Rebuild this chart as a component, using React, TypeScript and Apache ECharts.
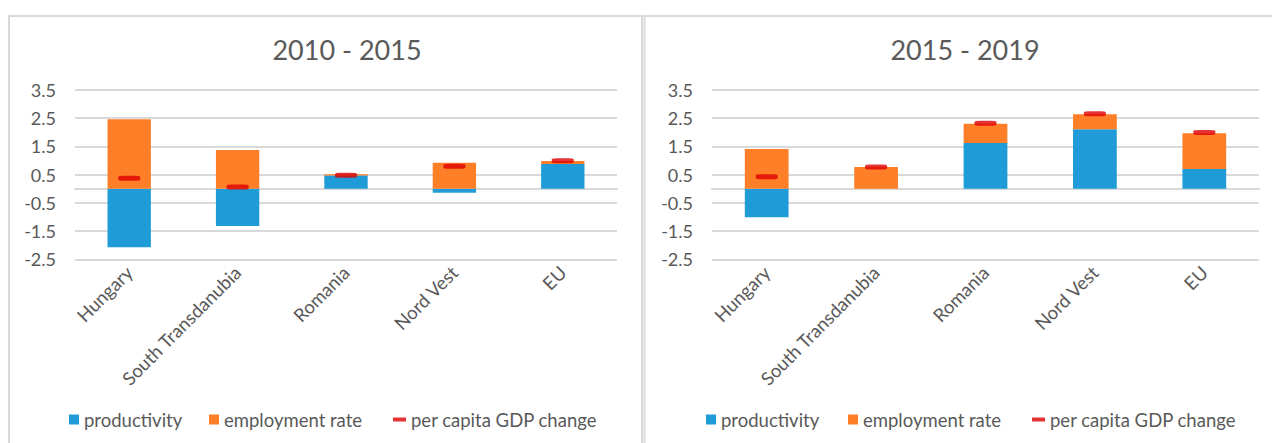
import React, { useEffect, useRef } from "react";
import * as echarts from "echarts";

const categories = ["Hungary", "South Transdanubia", "Romania", "Nord Vest", "EU"];
const titles = ["2010 - 2015", "2015 - 2019"];

// 2010 - 2015
const productivity1 = [-2.07, -1.32, 0.47, -0.14, 0.88];
const employment1 = [2.46, 1.37, 0.04, 0.92, 0.1];
const gdpChange1 = [0.37, 0.06, 0.48, 0.8, 0.99];

// 2015 - 2019
const productivity2 = [-1.01, 0, 1.62, 2.11, 0.7];
const employment2 = [1.41, 0.77, 0.68, 0.53, 1.27];
const gdpChange2 = [0.43, 0.77, 2.32, 2.66, 1.99];

const yTicks = [3.5, 2.5, 1.5, 0.5, -0.5, -1.5, -2.5];

const BLUE = "#1F9CD8";
const ORANGE = "#FE7F28";
const RED = "#DD0000";
const GRID = "#d9d9d9";
const TEXT = "#595959";
const FONT = "Lato";

export default function App() {
  const ref = useRef<HTMLDivElement>(null);
  useEffect(() => {
    if (!ref.current) return;
    const chart = echarts.init(ref.current, null, { renderer: "svg" });
    const grids = [
      { left: 75, top: 90, width: 542, height: 169.3 },
      { left: 712, top: 90, width: 547, height: 169.3 },
    ];
    const titleX = [347, 965];
    const legendX = [
      [64, 204, 388],
      [701, 843, 1027],
    ];
    const prod = [productivity1, productivity2];
    const emp = [employment1, employment2];
    const gdp = [gdpChange1, gdpChange2];

    const xAxis: any[] = [];
    const yAxis: any[] = [];
    const series: any[] = [];
    const legend: any[] = [];
    const graphic: any[] = [
      {
        type: "rect",
        shape: { x: 9, y: 16, width: 633, height: 460 },
        style: { fill: "none", stroke: GRID, lineWidth: 2 },
        silent: true,
      },
      {
        type: "rect",
        shape: { x: 644.5, y: 16, width: 660, height: 460 },
        style: { fill: "none", stroke: GRID, lineWidth: 2 },
        silent: true,
      },
    ];

    grids.forEach((g, i) => {
      xAxis.push({
        type: "category",
        gridIndex: i,
        data: categories,
        axisLine: { show: false, onZero: false },
        axisTick: { show: false },
        splitLine: { show: false },
        axisLabel: { rotate: 45, interval: 0, fontSize: 18.5, color: TEXT, fontFamily: FONT, margin: 10 },
      });
      xAxis.push({
        type: "category",
        gridIndex: i,
        data: categories,
        axisLine: { show: true, onZero: true, lineStyle: { color: GRID, width: 2 } },
        axisTick: { show: false },
        axisLabel: { show: false },
        splitLine: { show: false },
      });
      yAxis.push({
        type: "value",
        gridIndex: i,
        min: -2.5,
        max: 3.5,
        interval: 0.5,
        axisLine: { show: false },
        axisTick: { show: false },
        splitLine: { show: true, lineStyle: { color: [GRID, "rgba(0,0,0,0)"], width: 2 } },
        axisLabel: {
          fontSize: 18,
          color: TEXT,
          fontFamily: FONT,
          margin: 19,
          formatter: (v: number) => (yTicks.some((t) => Math.abs(t - v) < 1e-9) ? v.toFixed(1) : ""),
        },
      });
      const stack = "s" + i;
      series.push({
        type: "bar",
        name: "productivity",
        xAxisIndex: i * 2,
        yAxisIndex: i,
        stack,
        data: prod[i],
        barWidth: "40%",
        itemStyle: { color: BLUE },
        z: 2,
      });
      series.push({
        type: "bar",
        name: "employment rate",
        xAxisIndex: i * 2,
        yAxisIndex: i,
        stack,
        data: emp[i],
        barWidth: "40%",
        itemStyle: { color: ORANGE },
        z: 2,
      });
      series.push({
        type: "scatter",
        name: "per capita GDP change",
        xAxisIndex: i * 2,
        yAxisIndex: i,
        data: gdp[i],
        symbol: "roundRect",
        symbolSize: [22, 5],
        itemStyle: { color: RED },
        z: 5,
      });
      const names = ["productivity", "employment rate", "per capita GDP change"];
      names.forEach((n, k) => {
        legend.push({
          data: [{ name: n, icon: "rect" }],
          left: legendX[i][k],
          top: 405,
          itemWidth: k === 2 ? 13 : 10,
          itemHeight: k === 2 ? 4 : 10,
          selectedMode: false,
          textStyle: { fontSize: 18.5, color: TEXT, fontFamily: FONT },
        });
      });
      graphic.push({
        type: "text",
        x: titleX[i],
        y: 49,
        silent: true,
        style: {
          text: titles[i],
          fill: TEXT,
          font: `27px ${FONT}`,
          align: "center",
          verticalAlign: "middle",
        },
      });
    });

    chart.setOption({
      animation: false,
      textStyle: { fontFamily: FONT },
      grid: grids,
      xAxis,
      yAxis,
      series,
      legend,
      graphic,
    });
    return () => chart.dispose();
  }, []);
  return (
    <div
      ref={ref}
      style={{ position: "absolute", left: 0, top: 0, width: 1272, height: 443, background: "#fff" }}
    />
  );
}
